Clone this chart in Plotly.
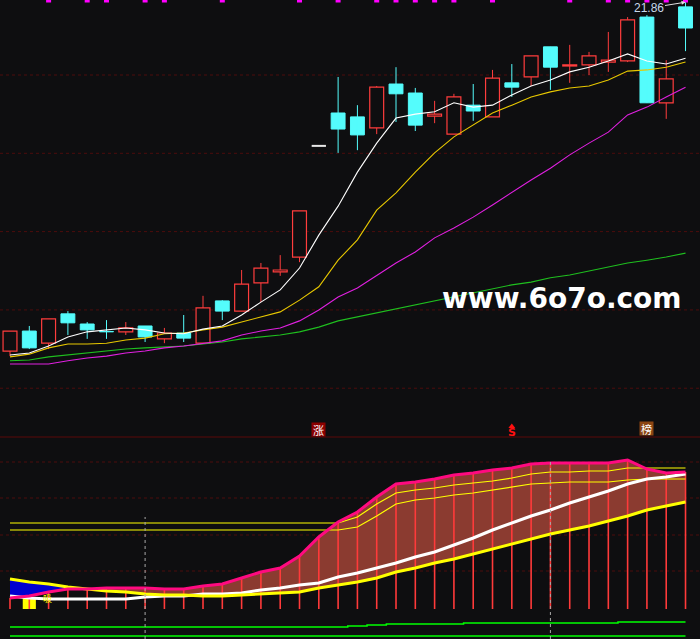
import plotly.graph_objects as go

BG = "#0e0e10"
UP = "#ff3d3d"
DN = "#54fcfc"

# ---------------- data ----------------
idx = list(range(36))
opens  = [12.95, 13.46, 13.15, 13.90, 13.64, 13.45, 13.44, 13.59, 13.26, 13.41, 13.15, 14.23,
          13.97, 14.69, 14.97, 15.35, 18.19, 19.03, 18.93, 18.65, 19.77, 19.54, 18.95, 18.49,
          19.23, 18.93, 19.80, 19.95, 20.72, 20.23, 20.26, 20.33, 20.36, 21.48, 19.29, 21.74]
highs  = [13.46, 13.59, 13.77, 13.97, 13.69, 13.74, 13.69, 13.59, 13.54, 13.87, 14.36, 14.25,
          15.02, 15.20, 15.40, 16.53, 18.19, 19.95, 19.23, 19.72, 20.20, 19.67, 19.34, 19.52,
          19.77, 20.13, 20.28, 20.49, 20.72, 20.77, 20.59, 21.10, 21.48, 21.53, 20.38, 21.86]
lows   = [12.82, 13.00, 13.00, 13.36, 13.26, 13.26, 13.36, 13.18, 13.15, 13.18, 13.15, 13.74,
          13.97, 14.20, 14.87, 15.22, 18.19, 18.01, 18.08, 18.49, 18.80, 18.57, 18.77, 18.49,
          18.83, 18.93, 19.44, 19.72, 19.62, 19.80, 20.00, 20.08, 20.33, 19.29, 18.88, 20.61]
closes = [13.46, 13.03, 13.77, 13.67, 13.49, 13.44, 13.54, 13.31, 13.41, 13.28, 14.05, 13.97,
          14.66, 15.07, 15.02, 16.53, 18.19, 18.62, 18.47, 19.69, 19.52, 18.72, 19.00, 19.44,
          19.08, 19.92, 19.69, 20.49, 20.20, 20.26, 20.49, 20.38, 21.41, 19.29, 19.90, 21.20]

ma5  = [12.85, 12.90, 13.08, 13.31, 13.44, 13.49, 13.54, 13.49, 13.41, 13.39, 13.51, 13.59,
        13.87, 14.20, 14.51, 15.07, 15.91, 16.65, 17.52, 18.26, 18.90, 19.00, 19.06, 19.29,
        19.18, 19.23, 19.49, 19.72, 19.87, 20.08, 20.20, 20.36, 20.54, 20.36, 20.28, 20.43]
ma10 = [12.80, 12.87, 13.03, 13.13, 13.13, 13.15, 13.23, 13.28, 13.39, 13.41, 13.49, 13.56,
        13.69, 13.82, 13.95, 14.25, 14.59, 15.27, 15.79, 16.55, 16.99, 17.52, 18.01, 18.42,
        18.72, 19.03, 19.23, 19.44, 19.57, 19.67, 19.72, 19.87, 20.10, 20.13, 20.20, 20.33]
ma20 = [12.62, 12.62, 12.62, 12.70, 12.77, 12.82, 12.90, 12.95, 13.03, 13.08, 13.15, 13.21,
        13.36, 13.46, 13.54, 13.72, 14.00, 14.33, 14.56, 14.87, 15.20, 15.48, 15.84, 16.09,
        16.37, 16.68, 17.01, 17.32, 17.62, 17.96, 18.26, 18.54, 18.98, 19.18, 19.44, 19.69]
ma60 = [12.70, 12.72, 12.80, 12.85, 12.90, 12.95, 13.00, 13.03, 13.05, 13.08, 13.13, 13.18,
        13.26, 13.31, 13.36, 13.44, 13.56, 13.72, 13.82, 13.92, 14.02, 14.13, 14.23, 14.33,
        14.43, 14.53, 14.64, 14.71, 14.82, 14.89, 14.99, 15.10, 15.20, 15.27, 15.35, 15.45]

signal_idx = [2, 4, 5, 7, 8, 11, 15, 17, 19, 20, 21, 22, 23, 25, 29, 31, 32, 33, 34, 35]
price_grid = [20, 18, 16, 14, 12]
max_high_label = "21.86"

# lower indicator panel
ind_top = [5.5, 6.5, 8.5, 10, 10, 10.5, 10.5, 10.5, 10, 10, 11.5, 12.5, 15.5, 18.5, 20.5, 26.5,
           36, 43.5, 48.5, 56, 62.5, 63.5, 65, 67, 68, 69.5, 70.5, 72.5, 73, 73, 73, 73,
           74.5, 70, 68, 68.5]
ind_y1  = [43, 43, 43, 43, 43, 43, 43, 43, 43, 43, 43, 43, 43, 43, 43, 43, 43, 43,
           46, 52.5, 58, 59.5, 60.5, 62, 63, 64, 65.5, 67.5, 68.5, 68.5, 69, 69, 70.5, 70.5, 70.5, 70.5]
ind_y2  = [39.5, 39.5, 39.5, 39.5, 39.5, 39.5, 39.5, 39.5, 39.5, 39.5, 39.5, 39.5, 39.5, 39.5,
           39.5, 39.5, 39.5, 39.5, 41, 46.5, 52.5, 54.5, 55.5, 57, 58, 59.5, 61, 62.5, 63, 63.5,
           63.5, 63.5, 64.5, 65, 65, 65]
ind_white = [6.5, 5.5, 5, 5, 5, 5, 5, 6, 6.5, 6.5, 7.5, 7.5, 8, 9.5, 10.5, 12, 13, 16, 18, 20.5,
             23, 26, 28.5, 32, 35.5, 39.5, 43, 46.5, 49.5, 53, 56, 59, 62.5, 65, 66, 67.5]
ind_low = [15, 13.5, 12.5, 11, 10, 9, 8.5, 7.5, 7, 7, 6.5, 6.5, 7, 7.5, 8, 8.5, 10.5, 12, 13.5,
           15.5, 18.5, 20.5, 23, 25, 27.5, 30, 32.5, 35, 37.5, 39.5, 41.5, 44, 46.5, 49.5, 51.5, 53.5]
ind_g1 = [-9, -9, -9, -9, -9, -9, -9, -9, -9, -9, -9, -9, -9, -9, -9, -9, -9, -9,
          -8.5, -8, -7.5, -7.5, -7.5, -7.5, -7, -7, -7, -7, -7, -7, -7, -7, -6.5, -6.5, -6.5, -6.5]
ind_g2 = [-13.5] * 36
cross_idx = 4            # bar where the yellow line crosses the pink line
buy_idx = [1]
buy_val = [6]
vline_idx = [7, 28]
vline_top = [46, 73.5]
ind_grid = [73.5, 55.5, 37, 19]
tag_idx = [16, 26, 33]
tag_text = ["涨", "S", "榜"]

# ---------------- figure ----------------
fig = go.Figure()

up_w_x, up_w_y, dn_w_x, dn_w_y = [], [], [], []
up_x, up_b, up_h, dn_x, dn_b, dn_h, fl_x, fl_y = [], [], [], [], [], [], [], []
for i, o, h, l, c in zip(idx, opens, highs, lows, closes):
    if c > o:
        up_w_x += [i, i, None, i, i, None]
        up_w_y += [h, c, None, o, l, None]
        up_x.append(i); up_b.append(o); up_h.append(c - o)
    elif c < o:
        dn_w_x += [i, i, None]
        dn_w_y += [h, l, None]
        dn_x.append(i); dn_b.append(c); dn_h.append(o - c)
    else:
        fl_x += [i - 0.37, i + 0.37, None]
        fl_y += [c, c, None]

fig.add_trace(go.Scatter(x=up_w_x, y=up_w_y, mode="lines", line=dict(color=UP, width=1),
                         hoverinfo="skip", showlegend=False))
fig.add_trace(go.Scatter(x=dn_w_x, y=dn_w_y, mode="lines", line=dict(color=DN, width=1),
                         hoverinfo="skip", showlegend=False))
fig.add_trace(go.Bar(x=up_x, y=up_h, base=up_b, width=0.72, marker=dict(color=BG, line=dict(color=UP, width=1.2)),
                     showlegend=False))
fig.add_trace(go.Bar(x=dn_x, y=dn_h, base=dn_b, width=0.72, marker=dict(color=DN, line=dict(color=DN, width=1)),
                     showlegend=False))
fig.add_trace(go.Scatter(x=fl_x, y=fl_y, mode="lines", line=dict(color="#e8e8e8", width=2),
                         showlegend=False))

for arr, col in [(ma60, "#1fbf1f"), (ma20, "#e020e0"), (ma10, "#e8c800"), (ma5, "#ffffff")]:
    fig.add_trace(go.Scatter(x=idx, y=arr, mode="lines", line=dict(color=col, width=1.1),
                             showlegend=False))

fig.add_trace(go.Scatter(x=signal_idx, y=[21.916] * len(signal_idx), mode="markers",
                         marker=dict(symbol="square", size=5, color="#ff00ff", line=dict(width=0)),
                         showlegend=False))

# small arrow above the "S" tag
fig.add_trace(go.Scatter(x=[tag_idx[1]], y=[11.02], mode="markers",
                         marker=dict(symbol="triangle-up", size=6, color="#ff1010", line=dict(width=0)),
                         showlegend=False))

# ----- lower panel -----
c = cross_idx
fig.add_trace(go.Scatter(x=idx[:c + 1], y=ind_low[:c + 1], yaxis="y2", mode="lines",
                         line=dict(width=0, color=BG), showlegend=False))
fig.add_trace(go.Scatter(x=idx[:c + 1], y=ind_top[:c + 1], yaxis="y2", mode="lines", fill="tonexty",
                         fillcolor="#0000d0", line=dict(width=0, color=BG), showlegend=False))
fig.add_trace(go.Scatter(x=idx[c:], y=ind_low[c:], yaxis="y2", mode="lines",
                         line=dict(width=0, color=BG), showlegend=False))
fig.add_trace(go.Scatter(x=idx[c:], y=ind_top[c:], yaxis="y2", mode="lines", fill="tonexty",
                         fillcolor="#8b3b30", line=dict(width=0, color=BG), showlegend=False))

fig.add_trace(go.Bar(x=buy_idx, y=buy_val, base=[0] * len(buy_idx), width=0.68, yaxis="y2",
                     marker=dict(color="#ffff00", line=dict(width=0)), showlegend=False))

sx, sy = [], []
for i, v in zip(idx, ind_top):
    sx += [i, i, None]
    sy += [0, v, None]
fig.add_trace(go.Scatter(x=sx, y=sy, yaxis="y2", mode="lines", line=dict(color="#ff3a3a", width=1.6),
                         showlegend=False))

fig.add_trace(go.Scatter(x=idx, y=ind_y1, yaxis="y2", mode="lines", line=dict(color="#ffff00", width=1.2),
                         showlegend=False))
fig.add_trace(go.Scatter(x=idx, y=ind_y2, yaxis="y2", mode="lines", line=dict(color="#ffff00", width=1.2),
                         showlegend=False))
fig.add_trace(go.Scatter(x=idx, y=ind_white, yaxis="y2", mode="lines", line=dict(color="#ffffff", width=3),
                         showlegend=False))
fig.add_trace(go.Scatter(x=idx, y=ind_low, yaxis="y2", mode="lines", line=dict(color="#ffff00", width=3),
                         showlegend=False))
fig.add_trace(go.Scatter(x=idx, y=ind_top, yaxis="y2", mode="lines", line=dict(color="#ff0a80", width=3),
                         showlegend=False))
fig.add_trace(go.Scatter(x=idx, y=ind_g1, yaxis="y2", mode="lines", line=dict(color="#00ff00", width=1.5, shape="hvh"),
                         showlegend=False))
fig.add_trace(go.Scatter(x=idx, y=ind_g2, yaxis="y2", mode="lines", line=dict(color="#00ff00", width=1.5),
                         showlegend=False))

vx, vy = [], []
for i, t in zip(vline_idx, vline_top):
    vx += [i, i, None]
    vy += [-15, t, None]
fig.add_trace(go.Scatter(x=vx, y=vy, yaxis="y2", mode="lines", line=dict(color="#a8a8a8", width=1, dash="dot"),
                         showlegend=False))

shapes = []
for p in price_grid:
    shapes.append(dict(type="line", xref="paper", x0=0, x1=1, yref="y", y0=p, y1=p,
                       line=dict(color="#4d0d0d", width=1, dash="dot"), layer="below"))
for v in ind_grid:
    shapes.append(dict(type="line", xref="paper", x0=0, x1=1, yref="y2", y0=v, y1=v,
                       line=dict(color="#4d0d0d", width=1, dash="dot"), layer="below"))
SPLIT = 1 - 437 / 639
shapes.append(dict(type="line", xref="paper", x0=0, x1=1, yref="paper", y0=SPLIT, y1=SPLIT,
                   line=dict(color="#5a0808", width=1.2)))

annotations = [
    dict(x=35, y=highs[35], xref="x", yref="y", text=max_high_label, showarrow=True,
         ax=-37, ay=6, arrowhead=2, arrowsize=0.8, arrowwidth=1, arrowcolor="#e0e0e0",
         font=dict(family="Liberation Sans, Arial", size=12, color="#c8d8ea")),
    dict(x=562 / 700, y=1 - 298 / 639, xref="paper", yref="paper", text="<b>www.6o7o.com</b>",
         xanchor="center", yanchor="middle",
         showarrow=False, font=dict(family="DejaVu Sans", size=28, color="#ffffff")),
    dict(x=tag_idx[0], y=10.945, xref="x", yref="y", text=tag_text[0], showarrow=False,
         width=13, height=13, bgcolor="#8b0000", borderpad=0,
         font=dict(family="Noto Sans CJK SC", size=11, color="#ffffff")),
    dict(x=tag_idx[1], y=10.875, xref="x", yref="y", text="<b>" + tag_text[1] + "</b>", showarrow=False,
         height=10, font=dict(family="DejaVu Sans", size=11, color="#ff1010")),
    dict(x=tag_idx[2], y=10.97, xref="x", yref="y", text=tag_text[2], showarrow=False,
         width=13, height=13, bgcolor="#8b4513", borderpad=0,
         font=dict(family="Noto Sans CJK SC", size=11, color="#ffffff")),
    dict(x=1.95, y=5.5, xref="x", yref="y2", text="吸", showarrow=False,
         font=dict(family="Noto Sans CJK SC", size=9, color="#ffff00")),
]

fig.update_layout(
    width=700, height=639,
    margin=dict(l=0, r=0, t=0, b=0),
    paper_bgcolor=BG, plot_bgcolor=BG,
    barmode="overlay",
    showlegend=False,
    hovermode=False,
    xaxis=dict(range=[-0.518, 35.75], visible=False, showgrid=False, zeroline=False, fixedrange=True),
    yaxis=dict(domain=[SPLIT, 1], range=[10.754, 21.916], visible=False, showgrid=False, zeroline=False),
    yaxis2=dict(domain=[0, SPLIT], range=[-15, 86], visible=False, showgrid=False, zeroline=False, anchor="x"),
    shapes=shapes,
    annotations=annotations,
)

fig.write_html("out.html", config={"displayModeBar": False},
               post_script="document.body.style.margin='0';document.body.style.background='#0e0e10';")
